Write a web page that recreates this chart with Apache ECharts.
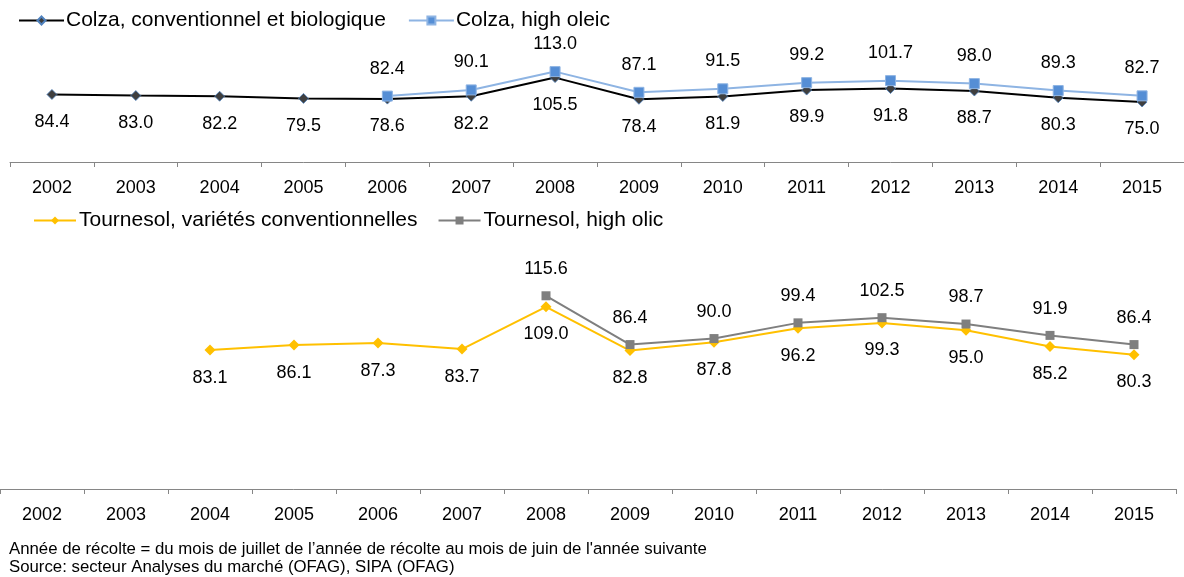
<!DOCTYPE html>
<html>
<head>
<meta charset="utf-8">
<script src="https://cdn.jsdelivr.net/npm/echarts@6/dist/echarts.min.js"></script>
<style>
  html, body { margin: 0; padding: 0; background: #fff; }
  #chart { width: 1184px; height: 577px; }
</style>
</head>
<body>
<div id="chart"></div>
<script>
var years = ['2002', '2003', '2004', '2005', '2006', '2007', '2008', '2009', '2010', '2011', '2012', '2013', '2014', '2015'];
var colzaConv = [84.4, 83.0, 82.2, 79.5, 78.6, 82.2, 105.5, 78.4, 81.9, 89.9, 91.8, 88.7, 80.3, 75.0];
var colzaHO = [null, null, null, null, 82.4, 90.1, 113.0, 87.1, 91.5, 99.2, 101.7, 98.0, 89.3, 82.7];
var tournConv = [null, null, 83.1, 86.1, 87.3, 83.7, 109.0, 82.8, 87.8, 96.2, 99.3, 95.0, 85.2, 80.3];
var tournHO = [null, null, null, null, null, null, 115.6, 86.4, 90.0, 99.4, 102.5, 98.7, 91.9, 86.4];

var chart = echarts.init(document.getElementById('chart'));

function xAxis(gridIndex) {
  return {
    type: 'category',
    gridIndex: gridIndex,
    data: years,
    boundaryGap: true,
    axisLine: { lineStyle: { color: '#868686', width: 1 } },
    axisTick: { show: true, length: 5, lineStyle: { color: '#868686' } },
    axisLabel: { color: '#000', fontSize: 18, fontFamily: 'Liberation Sans', margin: 17 }
  };
}
function yAxis(gridIndex, max) {
  return {
    type: 'value', gridIndex: gridIndex, min: 0, max: max, show: false,
    splitLine: { show: false }
  };
}
function label(pos) {
  return {
    show: true, position: pos, distance: 13, color: '#000',
    fontSize: 18, fontFamily: 'Liberation Sans',
    formatter: function (p) { return p.value == null ? '' : p.value.toFixed(1); }
  };
}

var option = {
  animation: false,
  title: {
    text: "Année de récolte = du mois de juillet de l’année de récolte au mois de juin de l'année suivante\nSource: secteur Analyses du marché (OFAG), SIPA (OFAG)",
    left: 9, top: 540, padding: 0,
    textStyle: { fontSize: 16.8, fontWeight: 'normal', color: '#000', fontFamily: 'Liberation Sans', lineHeight: 18 }
  },
  legend: [
    {
      left: 18, top: 10, padding: 0, itemWidth: 45, itemHeight: 10, itemGap: 22,
      textStyle: { fontSize: 21, color: '#000', fontFamily: 'Liberation Sans', padding: [0, 0, 0, -3] },
      data: ['Colza, conventionnel et biologique', 'Colza, high oleic']
    },
    {
      left: 33, top: 210, padding: 0, itemWidth: 42, itemHeight: 10, itemGap: 20,
      textStyle: { fontSize: 21, color: '#000', fontFamily: 'Liberation Sans', padding: [0, 0, 0, -2] },
      data: ['Tournesol, variétés conventionnelles', 'Tournesol, high olic']
    }
  ],
  grid: [
    { left: 10, width: 1176, top: 2, height: 160 },
    { left: 0, width: 1176, top: 255, height: 234 }
  ],
  xAxis: [xAxis(0), xAxis(1)],
  yAxis: [yAxis(0, 200), yAxis(1, 140)],
  series: [
    {
      name: 'Colza, conventionnel et biologique', type: 'line', xAxisIndex: 0, yAxisIndex: 0,
      data: colzaConv, symbol: 'diamond', symbolSize: 10,
      lineStyle: { color: '#000', width: 2 },
      itemStyle: { color: '#3f3f3f', borderColor: '#4f81bd', borderWidth: 0.8 },
      label: label('bottom')
    },
    {
      name: 'Colza, high oleic', type: 'line', xAxisIndex: 0, yAxisIndex: 0,
      data: colzaHO, symbol: 'rect', symbolSize: 10,
      lineStyle: { color: '#8eb4e3', width: 2 },
      itemStyle: { color: '#558ed5', borderColor: '#8eb4e3', borderWidth: 1 },
      label: label('top')
    },
    {
      name: 'Tournesol, variétés conventionnelles', type: 'line', xAxisIndex: 1, yAxisIndex: 1,
      data: tournConv, symbol: 'diamond', symbolSize: 11,
      lineStyle: { color: '#ffc000', width: 2 },
      itemStyle: { color: '#ffc000' },
      label: label('bottom')
    },
    {
      name: 'Tournesol, high olic', type: 'line', xAxisIndex: 1, yAxisIndex: 1,
      data: tournHO, symbol: 'rect', symbolSize: 9,
      lineStyle: { color: '#7f7f7f', width: 2 },
      itemStyle: { color: '#7f7f7f' },
      label: label('top')
    }
  ]
};
chart.setOption(option);
</script>
</body>
</html>
